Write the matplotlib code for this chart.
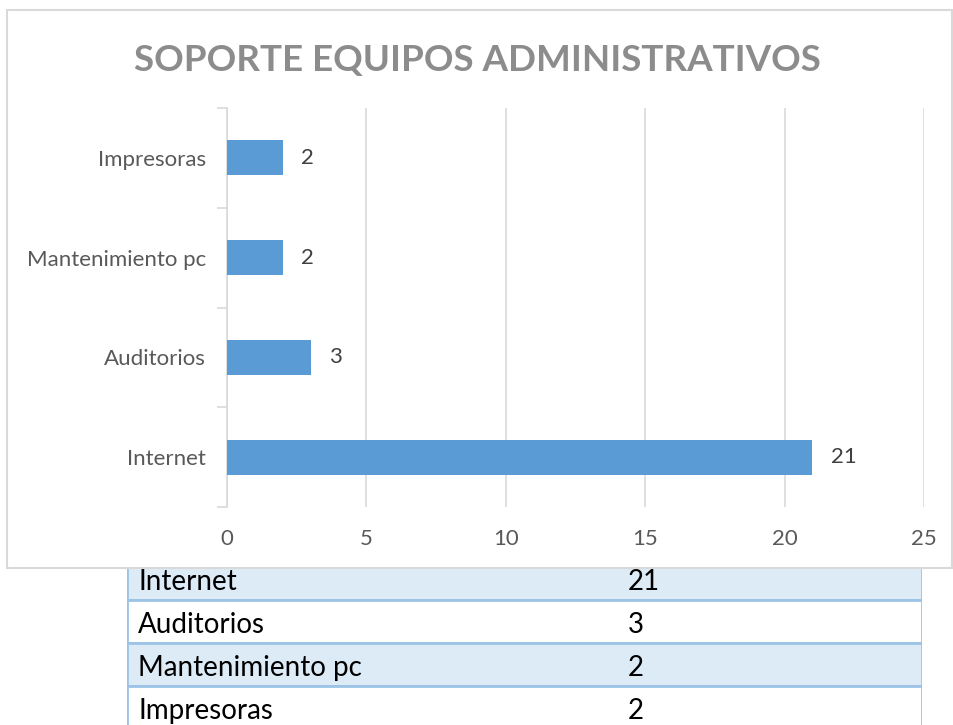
import matplotlib.pyplot as plt
from matplotlib.patches import Rectangle

categories = ["Internet", "Auditorios", "Mantenimiento pc", "Impresoras"]
values = [21, 3, 2, 2]
x_ticks = [0, 5, 10, 15, 20, 25]

plt.rcParams['font.family'] = ['Lato', 'DejaVu Sans']

W, H = 954, 725
fig = plt.figure(figsize=(W / 100, H / 100), dpi=100)

# table under the chart
tab = fig.add_axes([127 / W, -4 / H, (922 - 127) / W, 172 / H], zorder=0)
n = len(categories)
tab.set_xlim(0, 1)
tab.set_ylim(n, 0)
tab.axis('off')
for i, (c, v) in enumerate(zip(categories, values)):
    face = '#ddebf7' if i % 2 == 0 else 'white'
    tab.add_patch(Rectangle((0, i), 1, 1, facecolor=face, edgecolor='#9dc3e6', lw=2))
    tab.text(0.014, i + 0.58, c, va='center', ha='left', fontsize=20, color='black')
    tab.text(0.63, i + 0.58, str(v), va='center', ha='left', fontsize=20, color='black')

# chart frame
fig.patches.append(Rectangle((7 / W, 1 - 568 / H), 945 / W, 558 / H, transform=fig.transFigure,
                             facecolor='white', edgecolor='#d9d9d9', lw=1.5, zorder=1))

ax = fig.add_axes([227 / W, 1 - 507 / H, (924 - 227) / W, 399 / H], zorder=2)
ax.patch.set_alpha(0)
pos = list(range(n))
ax.barh(pos, values, height=0.35, color='#5b9bd5', zorder=3)
for p, v in zip(pos, values):
    ax.annotate(str(v), (v, p), xytext=(13, 0), textcoords='offset points',
                va='center', ha='left', fontsize=16, color='#404040')

ax.set_xlim(0, 25)
ax.set_ylim(-0.5, n - 0.5)
ax.set_xticks(x_ticks)
ax.grid(axis='x', color='#d9d9d9', lw=1.2, zorder=0)
ax.set_yticks(pos)
ax.set_yticklabels(categories)
ax.set_yticks([p - 0.5 for p in pos] + [n - 0.5], minor=True)
ax.tick_params(axis='y', which='major', length=0, pad=15, labelsize=16, labelcolor='#595959')
ax.tick_params(axis='y', which='minor', length=7, color='#d9d9d9', width=1.2)
ax.tick_params(axis='x', length=0, pad=16, labelsize=16, labelcolor='#595959')
for s in ['top', 'right', 'bottom']:
    ax.spines[s].set_visible(False)
ax.spines['left'].set_color('#d9d9d9')
ax.spines['left'].set_linewidth(1.2)

fig.text(477 / W, 1 - 61 / H, "SOPORTE EQUIPOS ADMINISTRATIVOS", ha='center', va='center',
         fontsize=26.5, fontweight='bold', color='#8c8c8c')

fig.savefig('out.png', dpi=100)
